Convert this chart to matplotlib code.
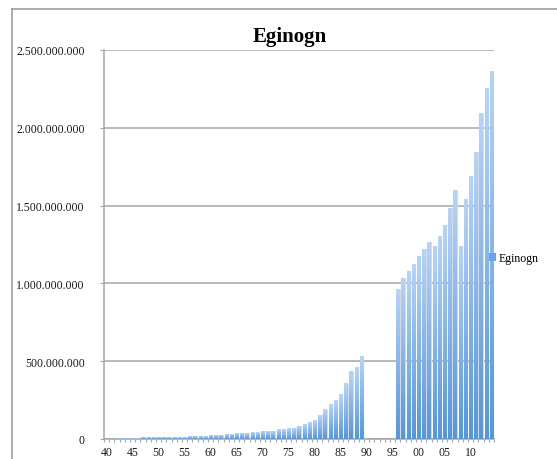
import numpy as np
import matplotlib
matplotlib.use("Agg")
import matplotlib.pyplot as plt
from matplotlib.patches import Patch
from matplotlib.lines import Line2D
from matplotlib.ticker import FuncFormatter, FixedLocator

# ---- data (values in millions) ----
years = list(range(1940, 2015))
values_m = [
    0, 0,                                   # 1940-1941
    6, 6, 6, 6, 6,                          # 1942-1946
    11, 11, 11, 11, 11, 11, 11, 11, 11,     # 1947-1955
    17, 17, 17, 17,                         # 1956-1959
    24, 24, 24,                             # 1960-1962
    30, 30,                                 # 1963-1964
    37, 37, 37,                             # 1965-1967
    43, 43,                                 # 1968-1969
    50, 50, 50,                             # 1970-1972
    58, 63, 69, 69, 82, 90, 103,            # 1973-1979
    121, 154, 187, 219, 246, 284, 355, 433, 459, 530,  # 1980-1989
    0, 0, 0, 0, 0, 0,                       # 1990-1995
    963, 1034, 1075, 1124, 1175, 1220, 1265, 1240, 1304, 1375,  # 1996-2005
    1484, 1599, 1240, 1541, 1689, 1844, 2094, 2254, 2364,        # 2006-2014
]
tick_years = list(range(1940, 2015, 5))
tick_labels = ["40", "45", "50", "55", "60", "65", "70", "75", "80", "85",
               "90", "95", "00", "05", "10"]
y_ticks = [0, 500e6, 1000e6, 1500e6, 2000e6, 2500e6]
title = "Eginogn"
series_name = "Eginogn"

# ---- figure ----
W, H = 557, 460
fig = plt.figure(figsize=(W / 100, H / 100), dpi=100)
ax = fig.add_axes([104 / W, (H - 440) / H, (494 - 104) / W, (440 - 51) / H])

serif = ["Liberation Serif", "DejaVu Serif"]
grid_c = "#a6a6a6"
txt_c = "#1a1a1a"

yrs = np.array(years, dtype=float)
vals = np.array(values_m, dtype=float) * 1e6
mask = vals > 0
xs, vs = yrs[mask], vals[mask]

bw = 0.6
# light grey shading beside each bar
ax.bar(xs + 0.22, vs, width=bw, color="#d9d9d9", linewidth=0, zorder=2)
bars = ax.bar(xs, vs, width=bw, color="none", linewidth=0, zorder=3)

dark = np.array([0x55, 0x96, 0xdc]) / 255
light = np.array([0xb6, 0xd4, 0xfa]) / 255
t = np.linspace(0, 1, 256)[:, None, None]
grad = dark * (1 - t) + light * t
for p in bars.patches:
    x0, y0 = p.get_xy()
    ax.imshow(grad, extent=[x0, x0 + p.get_width(), y0, y0 + p.get_height()],
              aspect="auto", origin="lower", zorder=3, interpolation="bilinear")

ax.set_xlim(1939.5, 2014.5)
ax.set_ylim(0, 2.5e9)

# grid & spines
ax.set_yticks(y_ticks)
ax.yaxis.grid(True, color=grid_c, linewidth=1.1)
ax.set_axisbelow(True)
for s in ["top", "right"]:
    ax.spines[s].set_visible(False)
for s in ["left", "bottom"]:
    ax.spines[s].set_color(grid_c)
    ax.spines[s].set_linewidth(1.1)

ax.yaxis.set_major_formatter(FuncFormatter(lambda v, _: f"{int(round(v)):,}".replace(",", ".")))
ax.tick_params(axis="y", direction="out", length=3, color=grid_c, pad=11,
               labelsize=8.5, labelcolor=txt_c)

ax.xaxis.set_major_locator(FixedLocator(tick_years))
ax.set_xticklabels(tick_labels)
ax.xaxis.set_minor_locator(FixedLocator(np.arange(1939.5, 2015, 1.0)))
ax.tick_params(axis="x", which="major", length=0, pad=5, labelsize=8.5, labelcolor=txt_c)
ax.tick_params(axis="x", which="minor", direction="out", length=2.5, color=grid_c, width=0.8)
for lab in ax.get_xticklabels() + ax.get_yticklabels():
    lab.set_family(serif)

# title
fig.text(290 / W, (H - 42) / H, title, ha="center", va="baseline",
         fontsize=15, fontweight="bold", family=serif, color="black")

# legend
ax.legend(handles=[Patch(facecolor="#6aa3e6", edgecolor="none", label=series_name)],
          loc="center left", bbox_to_anchor=(489 / W, (H - 259) / H),
          bbox_transform=fig.transFigure, frameon=False,
          handlelength=0.6, handleheight=0.6, handletextpad=0.25,
          borderpad=0, borderaxespad=0,
          prop={"family": serif, "size": 8.5})

# outer chart frame
fig.add_artist(Line2D([12 / W, 12 / W], [0, (H - 10) / H], transform=fig.transFigure,
                      color="#a0a0a0", linewidth=1.2))
fig.add_artist(Line2D([12 / W, 1.0], [(H - 10) / H, (H - 10) / H], transform=fig.transFigure,
                      color="#a0a0a0", linewidth=1.2))

fig.savefig("out.png", dpi=100)
